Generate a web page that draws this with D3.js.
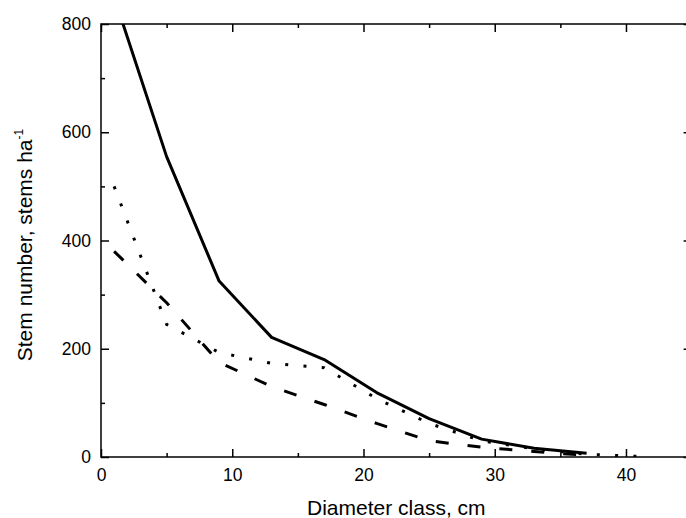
<!DOCTYPE html>
<html>
<head>
<meta charset="utf-8">
<script src="https://cdn.jsdelivr.net/npm/d3@7"></script>
<style>
  html, body { margin: 0; padding: 0; background: #fff; }
  svg { display: block; font-family: "Liberation Sans", Arial, sans-serif; }
  .axis path, .axis line { stroke: #000; stroke-width: 1.5; }
  .axis text { font-size: 17.5px; fill: #000; }
</style>
</head>
<body>
<svg id="chart" width="686" height="518"></svg>
<script>
// Stem number distribution by diameter class — three stands.
const diamSolid = [1, 5, 9, 13, 17, 21, 25, 29, 33, 37];
const stemsSolid = [850, 555, 325, 221, 180, 119, 71, 33, 16, 7];

const diamDotted = [1, 5, 9, 13, 17, 21, 25, 29, 33, 37, 41];
const stemsDotted = [500, 245, 193, 173, 165, 108, 62, 30, 15, 5, 1];

const diamDashed = [1, 5, 9, 13, 17, 21, 25, 29, 33, 37];
const stemsDashed = [380, 285, 175, 130, 97, 62, 30, 18, 10, 3];

const xMajor = [0, 10, 20, 30, 40];
const xMinor = [5, 15, 25, 35];
const yMajor = [0, 200, 400, 600, 800];
const yMinor = [100, 300, 500, 700];

const W = 686, H = 518;
const margin = { top: 24, left: 101, bottom: 61, right: -5.6 };
const iw = W - margin.left - margin.right;
const ih = H - margin.top - margin.bottom;

const svg = d3.select('#chart');
const g = svg.append('g').attr('transform', `translate(${margin.left},${margin.top})`);

const x = d3.scaleLinear().domain([0, 45]).range([0, iw]);
const y = d3.scaleLinear().domain([0, 800]).range([ih, 0]);

g.append('clipPath').attr('id', 'plot-clip')
  .append('rect').attr('x', 0).attr('y', 0).attr('width', iw).attr('height', ih);

// Series
const series = [
  { xs: diamSolid, ys: stemsSolid, dash: null },
  { xs: diamDotted, ys: stemsDotted, dash: '3,15.3' },
  { xs: diamDashed, ys: stemsDashed, dash: '13,19' },
];
const line = d3.line().x(d => x(d[0])).y(d => y(d[1]));

g.append('g').attr('clip-path', 'url(#plot-clip)')
  .selectAll('path')
  .data(series)
  .enter()
  .append('path')
  .attr('d', s => line(s.xs.map((v, i) => [v, s.ys[i]])))
  .attr('fill', 'none')
  .attr('stroke', '#000')
  .attr('stroke-width', 3)
  .attr('stroke-linejoin', 'round')
  .attr('stroke-dasharray', s => s.dash);

// Axes (inward ticks, mirrored on top/right)
function styleAxis(sel) {
  sel.attr('class', 'axis');
  sel.selectAll('.domain').remove();
}

g.append('g').attr('transform', `translate(0,${ih})`)
  .call(d3.axisBottom(x).tickValues(xMajor).tickSize(-8).tickSizeOuter(0).tickPadding(12).tickFormat(d3.format('d')))
  .call(styleAxis);
g.append('g').attr('transform', `translate(0,${ih})`)
  .call(d3.axisBottom(x).tickValues(xMinor).tickSize(-4).tickFormat(''))
  .call(styleAxis);
g.append('g')
  .call(d3.axisTop(x).tickValues(xMajor).tickSize(-8).tickFormat(''))
  .call(styleAxis);
g.append('g')
  .call(d3.axisTop(x).tickValues(xMinor).tickSize(-4).tickFormat(''))
  .call(styleAxis);

g.append('g')
  .call(d3.axisLeft(y).tickValues(yMajor).tickSize(-8).tickPadding(10).tickFormat(d3.format('d')))
  .call(styleAxis);
g.append('g')
  .call(d3.axisLeft(y).tickValues(yMinor).tickSize(-4).tickFormat(''))
  .call(styleAxis);
g.append('g').attr('transform', `translate(${iw},0)`)
  .call(d3.axisRight(y).tickValues(yMajor).tickSize(-8).tickFormat(''))
  .call(styleAxis);
g.append('g').attr('transform', `translate(${iw},0)`)
  .call(d3.axisRight(y).tickValues(yMinor).tickSize(-4).tickFormat(''))
  .call(styleAxis);

// Frame
g.append('rect')
  .attr('width', iw).attr('height', ih)
  .attr('fill', 'none').attr('stroke', '#000').attr('stroke-width', 1.5);

// Axis titles
svg.append('text')
  .attr('x', margin.left + iw / 2)
  .attr('y', 515)
  .attr('text-anchor', 'middle')
  .style('font-size', '21px')
  .text('Diameter class, cm');

const yt = svg.append('text')
  .attr('transform', 'translate(32,245) rotate(-90)')
  .attr('text-anchor', 'middle')
  .style('font-size', '21px');
yt.append('tspan').text('Stem number, stems ha');
yt.append('tspan').attr('dy', -9).style('font-size', '12px').text('-1');
</script>
</body>
</html>
